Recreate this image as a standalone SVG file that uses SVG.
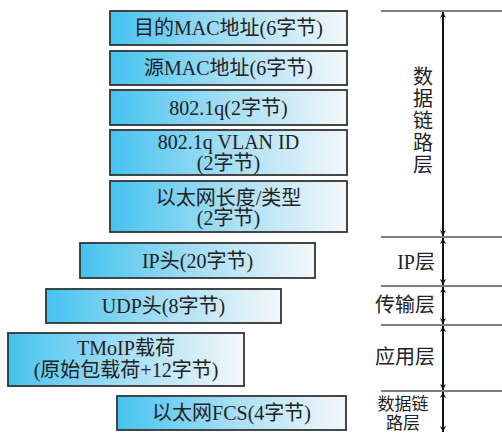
<svg xmlns="http://www.w3.org/2000/svg" width="502" height="435" viewBox="0 0 502 435">
<defs>
<linearGradient id="g" x1="0" y1="0" x2="1" y2="0">
<stop offset="0" stop-color="#45c3ef"/>
<stop offset="0.5" stop-color="#a6def4"/>
<stop offset="1" stop-color="#f4f7f9"/>
</linearGradient>
<marker id="ah" viewBox="0 0 10 10" refX="10" refY="5" markerWidth="6" markerHeight="8" orient="auto-start-reverse" markerUnits="userSpaceOnUse">
<path d="M0,0 L10,5 L0,10 L3,5 Z" fill="#111"/>
</marker>
</defs>
<style>
.box{fill:url(#g);stroke:#333;stroke-width:1.8}
.t{font-family:"Liberation Serif","Noto Sans CJK SC",serif;font-size:20px;fill:#222;text-anchor:middle}
.l{font-family:"Liberation Serif","Noto Sans CJK SC",serif;font-size:20px;fill:#222}
.s{font-family:"Liberation Serif","Noto Sans CJK SC",serif;font-size:17px;fill:#222;text-anchor:middle}
.hl{stroke:#555;stroke-width:1.5}
.ar{stroke:#111;stroke-width:2;marker-start:url(#ah);marker-end:url(#ah)}
</style>
<g id="n1"><rect class="box" x="110" y="11" width="237" height="34"/><text class="t" x="228.5" y="35">目的MAC地址(6字节)</text></g>
<g id="n2"><rect class="box" x="110" y="51" width="237" height="34"/><text class="t" x="228.5" y="75">源MAC地址(6字节)</text></g>
<g id="n3"><rect class="box" x="110" y="90" width="237" height="35"/><text class="t" x="228.5" y="114.5">802.1q(2字节)</text></g>
<g id="n4"><rect class="box" x="110" y="130" width="237" height="45"/><text class="t" x="228.5" y="149">802.1q VLAN ID</text><text class="t" x="228.5" y="170">(2字节)</text></g>
<g id="n5"><rect class="box" x="110" y="181" width="237" height="51"/><text class="t" x="228.5" y="205">以太网长度/类型</text><text class="t" x="228.5" y="225">(2字节)</text></g>
<g id="n6"><rect class="box" x="80" y="243" width="235" height="35"/><text class="t" x="197.5" y="267.5">IP头(20字节)</text></g>
<g id="n7"><rect class="box" x="46" y="289" width="235" height="34"/><text class="t" x="163.5" y="313">UDP头(8字节)</text></g>
<g id="n8"><rect class="box" x="8" y="333" width="236" height="53"/><text class="t" x="126" y="355">TMoIP载荷</text><text class="t" x="126" y="377">(原始包载荷+12字节)</text></g>
<g id="n9"><rect class="box" x="117" y="396" width="229" height="34"/><text class="t" x="231.5" y="420">以太网FCS(4字节)</text></g>
<g id="connectors">
<line class="hl" x1="381" y1="11" x2="502" y2="11"/>
<line class="hl" x1="381" y1="237" x2="502" y2="237"/>
<line class="hl" x1="381" y1="286" x2="502" y2="286"/>
<line class="hl" x1="381" y1="325" x2="502" y2="325"/>
<line class="hl" x1="381" y1="391" x2="502" y2="391"/>
<line class="ar" x1="443" y1="12" x2="443" y2="236"/>
<line class="ar" x1="443" y1="238" x2="443" y2="285"/>
<line class="ar" x1="443" y1="287" x2="443" y2="324"/>
<line class="ar" x1="443" y1="326" x2="443" y2="390"/>
<line class="ar" x1="443" y1="392" x2="443" y2="432"/>
</g>
<g id="labels">
<text class="t" x="423"><tspan x="423" y="84">数</tspan><tspan x="423" y="106">据</tspan><tspan x="423" y="128">链</tspan><tspan x="423" y="150">路</tspan><tspan x="423" y="172">层</tspan></text>
<text class="l" x="435" y="269" text-anchor="end">IP层</text>
<text class="l" x="435" y="312" text-anchor="end">传输层</text>
<text class="l" x="435" y="364" text-anchor="end">应用层</text>
<text class="s" x="403" y="410">数据链</text>
<text class="s" x="403" y="429">路层</text>
</g>
</svg>
